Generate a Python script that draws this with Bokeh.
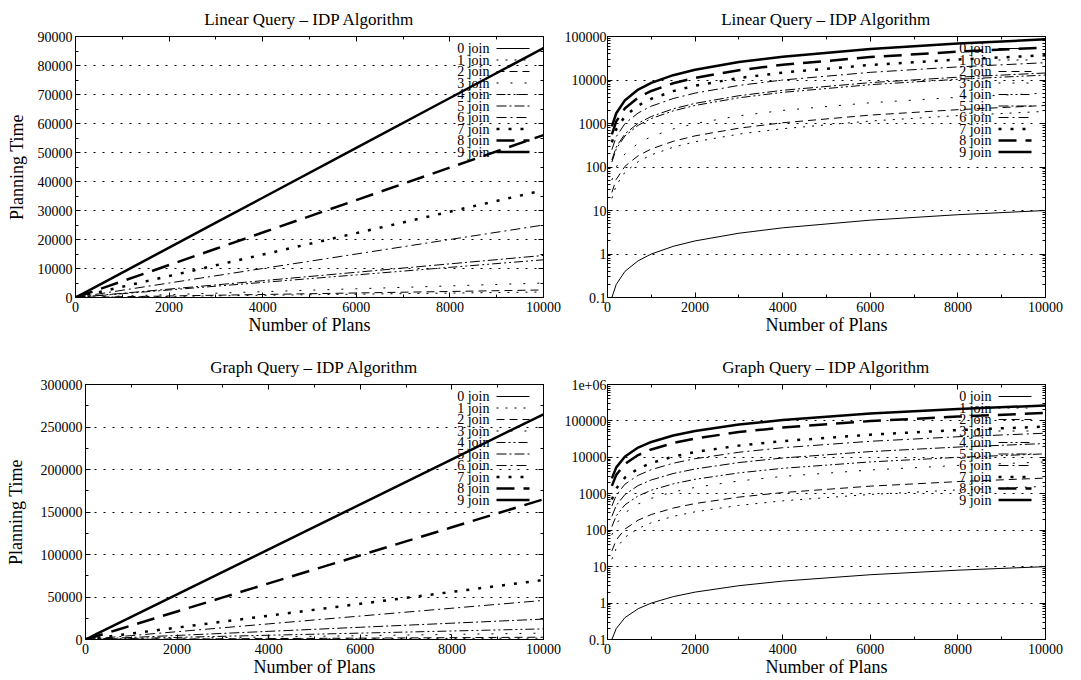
from bokeh.plotting import figure
from bokeh.models import (FixedTicker, LinearAxis, LogAxis, Range1d, Label, Arrow,
                          CustomJSTickFormatter, BasicTickFormatter)
from bokeh.layouts import column, row
from bokeh.embed import file_html
from bokeh.resources import INLINE

# ---------------- data ----------------
plans = [0, 100, 200, 400, 700, 1000, 1500, 2000, 3000, 4000, 6000, 8000, 10000]
series_labels = ["0 join", "1 join", "2 join", "3 join", "4 join",
                 "5 join", "6 join", "7 join", "8 join", "9 join"]

linear_0 = [0, 0.1, 0.2, 0.4, 0.7, 1, 1.5, 2, 3, 4, 6, 8, 10]
linear_1 = [0, 19, 38, 76, 133, 190, 285, 380, 570, 760, 1140, 1520, 1900]
linear_2 = [0, 26, 52, 104, 182, 260, 390, 520, 780, 1040, 1560, 2080, 2600]
linear_3 = [0, 50, 100, 200, 350, 500, 750, 1000, 1500, 2000, 3000, 4000, 5000]
linear_4 = [0, 130, 260, 520, 910, 1300, 1950, 2600, 3900, 5200, 7800, 10400, 13000]
linear_5 = [0, 145, 290, 580, 1015, 1450, 2175, 2900, 4350, 5800, 8700, 11600, 14500]
linear_6 = [0, 250, 500, 1000, 1750, 2500, 3750, 5000, 7500, 10000, 15000, 20000, 25000]
linear_7 = [0, 370, 740, 1480, 2590, 3700, 5550, 7400, 11100, 14800, 22200, 29600, 37000]
linear_8 = [0, 560, 1120, 2240, 3920, 5600, 8400, 11200, 16800, 22400, 33600, 44800, 56000]
linear_9 = [0, 860, 1720, 3440, 6020, 8600, 12900, 17200, 25800, 34400, 51600, 68800, 86000]

graph_0 = [0, 0.1, 0.2, 0.4, 0.7, 1, 1.5, 2, 3, 4, 6, 8, 10]
graph_1 = [0, 16, 32, 64, 112, 160, 240, 320, 480, 640, 960, 1280, 1600]
graph_2 = [0, 27, 54, 108, 189, 270, 405, 540, 810, 1080, 1620, 2160, 2700]
graph_3 = [0, 75, 150, 300, 525, 750, 1125, 1500, 2250, 3000, 4500, 6000, 7500]
graph_4 = [0, 125, 250, 500, 875, 1250, 1875, 2500, 3750, 5000, 7500, 10000, 12500]
graph_5 = [0, 240, 480, 960, 1680, 2400, 3600, 4800, 7200, 9600, 14400, 19200, 24000]
graph_6 = [0, 460, 920, 1840, 3220, 4600, 6900, 9200, 13800, 18400, 27600, 36800, 46000]
graph_7 = [0, 700, 1400, 2800, 4900, 7000, 10500, 14000, 21000, 28000, 42000, 56000, 70000]
graph_8 = [0, 1650, 3300, 6600, 11550, 16500, 24750, 33000, 49500, 66000, 99000, 132000, 165000]
graph_9 = [0, 2650, 5300, 10600, 18550, 26500, 39750, 53000, 79500, 106000, 159000, 212000, 265000]

linear_series = [linear_0, linear_1, linear_2, linear_3, linear_4,
                 linear_5, linear_6, linear_7, linear_8, linear_9]
graph_series = [graph_0, graph_1, graph_2, graph_3, graph_4,
                graph_5, graph_6, graph_7, graph_8, graph_9]

x_ticks = [0, 2000, 4000, 6000, 8000, 10000]
x_minor = [1000, 3000, 5000, 7000, 9000]
lin_top_ticks = [0, 10000, 20000, 30000, 40000, 50000, 60000, 70000, 80000, 90000]
lin_top_minor = [5000, 15000, 25000, 35000, 45000, 55000, 65000, 75000, 85000]
lin_bot_ticks = [0, 50000, 100000, 150000, 200000, 250000, 300000]
lin_bot_minor = [25000, 75000, 125000, 175000, 225000, 275000]
log_top_ticks = [0.1, 1, 10, 100, 1000, 10000, 100000]
log_top_labels = ["0.1", "1", "10", "100", "1000", "10000", "100000"]
log_bot_ticks = [0.1, 1, 10, 100, 1000, 10000, 100000, 1000000]
log_bot_labels = ["0.1", "1", "10", "100", "1000", "10000", "100000", "1e+06"]

# ---------------- styles ----------------
FONT = "Liberation Serif"
dashes = ["solid", "2 7", "8 5", "2 12", "9 3 2 3 2 3", "10 3 2 3",
          "10 4 2 4", "3 9", "18 9", "solid"]
widths = [1, 1, 1, 1, 1, 1, 1, 2.5, 2.5, 2.5]


def log_minor(ticks):
    out = []
    for t in ticks[:-1]:
        out += [t * k for k in range(2, 10)]
    return out


def style_axis(ax, show_labels=True, label_standoff=0, tick_standoff=3):
    ax.major_tick_in = 5
    ax.major_tick_out = 0
    ax.minor_tick_in = 3
    ax.minor_tick_out = 0
    ax.axis_line_color = "black"
    ax.major_tick_line_color = "black"
    ax.minor_tick_line_color = "black"
    ax.major_label_text_font = FONT
    ax.major_label_text_color = "black"
    ax.major_label_text_font_size = "14px"
    ax.axis_label_text_font = FONT
    ax.axis_label_text_font_style = "normal"
    ax.axis_label_text_font_size = "18px"
    ax.axis_label_text_color = "black"
    ax.axis_label_standoff = label_standoff
    if show_labels:
        ax.major_label_standoff = tick_standoff
    else:
        ax.formatter = CustomJSTickFormatter(code="return ''")
        ax.major_label_standoff = 0


def make_fig(title, series, fw, fh, bl, br, bt, bb, log, y_end, yticks, yminor,
             ylabels, ylabel, ylabel_standoff, ytick_standoff):
    y_type = "log" if log else "linear"
    y_start = 0.1 if log else 0
    p = figure(frame_width=fw, frame_height=fh, output_backend="svg",
               toolbar_location=None,
               x_range=Range1d(0, 10000), y_range=Range1d(y_start, y_end),
               y_axis_type=y_type, title=title,
               min_border_left=bl, min_border_right=br,
               min_border_top=bt, min_border_bottom=bb)
    p.title.text_font = FONT
    p.title.text_font_size = "17px"
    p.title.text_font_style = "normal"
    p.title.text_color = "black"
    p.title.align = "center"
    p.title.standoff = 15
    p.outline_line_color = "black"
    p.outline_line_width = 1
    p.outline_line_alpha = 1
    p.xgrid.grid_line_color = None
    p.ygrid.grid_line_color = "black"
    p.ygrid.grid_line_dash = "2 7"
    p.ygrid.grid_line_width = 1

    xt = FixedTicker(ticks=x_ticks, minor_ticks=x_minor)
    yt = FixedTicker(ticks=yticks, minor_ticks=yminor)
    p.xaxis.ticker = xt
    p.yaxis.ticker = yt
    p.ygrid.ticker = yt
    p.xaxis.axis_label = "Number of Plans"
    if ylabel:
        p.yaxis.axis_label = ylabel
    if ylabels:
        p.yaxis.major_label_overrides = {t: s for t, s in zip(yticks, ylabels)}
    else:
        p.yaxis.formatter = BasicTickFormatter(use_scientific=False)
    for ax in p.xaxis:
        style_axis(ax, True, 0, 4)
    for ax in p.yaxis:
        style_axis(ax, True, ylabel_standoff, ytick_standoff)

    top = LinearAxis(ticker=xt)
    style_axis(top, False)
    p.add_layout(top, "above")
    right = LogAxis(ticker=yt) if log else LinearAxis(ticker=yt)
    style_axis(right, False)
    p.add_layout(right, "right")

    xs = plans[1:] if log else plans
    for i, ys in enumerate(series):
        yy = ys[1:] if log else ys
        p.line(xs, yy, line_color="black", line_width=widths[i],
               line_dash=dashes[i])

    # gnuplot-style key: right-aligned label followed by a line sample
    for i, name in enumerate(series_labels):
        ky = fh - 12 - 11.5 * i
        p.add_layout(Label(x=fw - 54, y=ky, x_units="screen", y_units="screen",
                           text=name, text_align="right", text_baseline="middle",
                           text_font=FONT, text_font_size="14px",
                           text_color="black"))
        p.add_layout(Arrow(end=None, x_start=fw - 47, y_start=ky,
                           x_end=fw - 14, y_end=ky,
                           start_units="screen", end_units="screen",
                           line_color="black", line_width=widths[i],
                           line_dash=dashes[i]))
    return p


p1 = make_fig("Linear Query \u2013 IDP Algorithm", linear_series, 468, 261, 75, 18, 35, 42,
              False, 90000, lin_top_ticks, lin_top_minor, None, "Planning Time", 8, 3)
p2 = make_fig("Linear Query \u2013 IDP Algorithm", linear_series, 438, 261, 42, 30, 35, 42,
              True, 100000, log_top_ticks, log_minor(log_top_ticks), log_top_labels, None, 0, 1)
p3 = make_fig("Graph Query \u2013 IDP Algorithm", graph_series, 458, 255, 85, 18, 45, 40,
              False, 300000, lin_bot_ticks, lin_bot_minor, None, "Planning Time", 12, 3)
p4 = make_fig("Graph Query \u2013 IDP Algorithm", graph_series, 438, 255, 42, 30, 45, 40,
              True, 1000000, log_bot_ticks, log_minor(log_bot_ticks), log_bot_labels, None, 0, 1)

layout = column(row(p1, p2), row(p3, p4))
open("out.html", "w").write(file_html(layout, INLINE))
